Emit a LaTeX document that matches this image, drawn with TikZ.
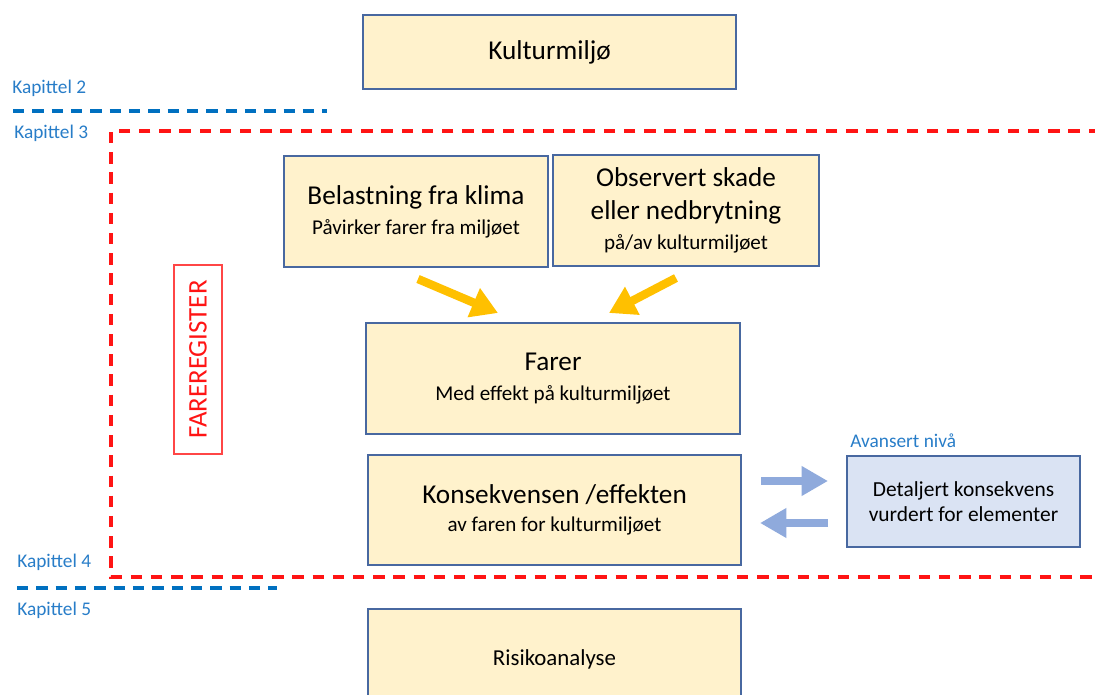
\documentclass[tikz,border=0pt]{standalone}
\usepackage{fontspec}
\setmainfont{Carlito}
\usepackage{xcolor}
\usetikzlibrary{arrows.meta}

\definecolor{boksgul}{HTML}{FFF2CC}
\definecolor{boksblaa}{HTML}{DAE3F3}
\definecolor{kant}{RGB}{72,104,160}
\definecolor{pilgul}{HTML}{FFC000}
\definecolor{pilblaa}{HTML}{8FAADC}
\definecolor{kapittel}{HTML}{0070C0}
\definecolor{kapteks}{RGB}{40,125,200}
\definecolor{rammerod}{RGB}{255,20,20}
\definecolor{registerrod}{RGB}{255,70,70}

\newcommand{\stor}{\fontsize{15.5}{19}\selectfont}
\newcommand{\liten}{\fontsize{12}{14}\selectfont}

\begin{document}
\begin{tikzpicture}[x=0.02cm, y=-0.02cm,
    boks/.style={draw=kant, line width=0.8pt, fill=boksgul, align=center, inner sep=0pt, font=\stor},
    kap/.style={text=kapteks, font=\fontsize{11}{13}\selectfont, anchor=west, inner sep=0pt},
    skille/.style={kapittel, line width=2pt, dash pattern=on 6.5pt off 4.5pt},
    gulpil/.style={pilgul, line width=4.8pt, -{Triangle[width=17pt,length=15pt]}},
    blaapil/.style={pilblaa, line width=4.8pt, -{Triangle[width=16pt,length=15pt]}}]

    \useasboundingbox (0,0) rectangle (1095,695);

    % ramme rundt kapittel 3 og 4
    \draw[rammerod, line width=2.2pt, dash pattern=on 6.5pt off 5pt]
        (1100,131) -- (111,131) -- (111,577) -- (1100,577);

    % skillelinjer mellom kapitlene
    \draw[skille] (13,111) -- (327,111);
    \draw[skille] (17,588) -- (277,588);

    % kapitteltekster
    \node[kap] (kap2) at (12,88) {Kapittel 2};
    \node[kap] (kap3) at (14,133) {Kapittel 3};
    \node[kap] (kap4) at (17,562) {Kapittel 4};
    \node[kap] (kap5) at (17,610) {Kapittel 5};
    \node[kap] (avansert) at (850,441) {Avansert nivå};

    % boksene
    \node[boks, minimum width=7.46cm, minimum height=1.48cm] (kulturmiljo) at (549.5,52) {Kulturmiljø};
    \node[boks, minimum width=5.28cm, minimum height=2.22cm] (belastning) at (416,211.5)
        {Belastning fra klima\\[-2pt]{\liten Påvirker farer fra miljøet}};
    \node[boks, minimum width=5.32cm, minimum height=2.22cm] (observert) at (686,210.5)
        {Observert skade\\eller nedbrytning\\[-2pt]{\liten på/av kulturmiljøet}};
    \node[boks, minimum width=7.48cm, minimum height=2.22cm] (farer) at (553,378.5)
        {Farer\\[-2pt]{\liten Med effekt på kulturmiljøet}};
    \node[boks, minimum width=7.46cm, minimum height=2.2cm] (konsekvens) at (554.5,510)
        {Konsekvensen /effekten\\[-3pt]{\liten av faren for kulturmiljøet}};
    \node[boks, minimum width=7.46cm, minimum height=2cm, font=\fontsize{13}{15}\selectfont] (risiko) at (554.5,659)
        {Risikoanalyse};
    \node[boks, fill=boksblaa, minimum width=4.66cm, minimum height=1.82cm, font=\fontsize{12.2}{14}\selectfont]
        (detaljert) at (963.5,501.5) {Detaljert konsekvens\\vurdert for elementer};

    % fareregister
    \node[draw=registerrod, line width=0.8pt, text=rammerod, rotate=90, inner sep=0pt,
        minimum width=3.78cm, minimum height=0.96cm, font=\fontsize{15.3}{18}\selectfont]
        (fareregister) at (198,359.5) {FAREREGISTER};

    % gule piler mot farer
    \coordinate (gul1a) at (418,279);
    \coordinate (gul1b) at (498,313);
    \coordinate (gul2a) at (676,278);
    \coordinate (gul2b) at (609,313);
    \draw[gulpil] (gul1a) -- (gul1b);
    \draw[gulpil] (gul2a) -- (gul2b);

    % blaa piler til og fra detaljert nivaa
    \coordinate (bla1a) at (761,481);
    \coordinate (bla1b) at (828,481);
    \coordinate (bla2a) at (828,523);
    \coordinate (bla2b) at (760,523);
    \draw[blaapil] (bla1a) -- (bla1b);
    \draw[blaapil] (bla2a) -- (bla2b);

\end{tikzpicture}
\end{document}
